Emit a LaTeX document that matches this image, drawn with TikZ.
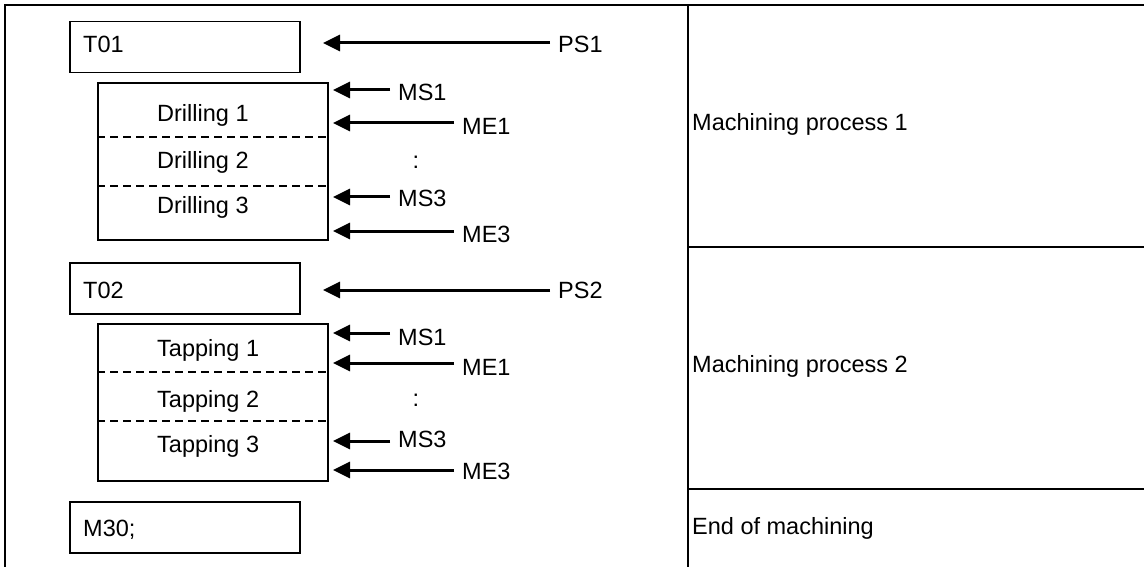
\documentclass[tikz,border=0pt]{standalone}
\usepackage{fontspec}
\setmainfont{Liberation Sans}
\usetikzlibrary{arrows.meta}
\begin{document}
\begin{tikzpicture}[x=1pt,y=-1pt,
  txt/.style={font=\fontsize{23.5}{28}\selectfont, inner sep=0pt},
  frame/.style={line width=2pt},
  box/.style={draw, line width=1.6pt, rectangle, inner sep=0pt},
  cmd/.style={box, anchor=north west, minimum width=230pt, minimum height=51pt},
  sub/.style={box, anchor=north west, minimum width=230pt, minimum height=157pt},
  sep/.style={line width=1.6pt, dash pattern=on 8pt off 5pt},
  lbl/.style={txt, anchor=base west, inner xsep=8pt},
  arr/.style={line width=3pt, -{Triangle[length=17pt,width=16pt]}}]
\useasboundingbox (0,0) rectangle (1144,567);
% frame
\coordinate (ftl) at (5,5);
\coordinate (ftr) at (1144,5);
\coordinate (fbl) at (5,567);
\coordinate (ct) at (688,5);
\coordinate (cb) at (688,567);
\coordinate (h1l) at (688,247);
\coordinate (h1r) at (1144,247);
\coordinate (h2l) at (688,489);
\coordinate (h2r) at (1144,489);
\draw[frame] (fbl) -- (ftl) -- (ftr);
\draw[frame] (ct) -- (cb);
\draw[frame] (h1l) -- (h1r);
\draw[frame] (h2l) -- (h2r);
\node[txt, anchor=base west] (mp1) at (692,131) {Machining process 1};
\node[txt, anchor=base west] (mp2) at (692,372) {Machining process 2};
\node[txt, anchor=base west] (eom) at (692,534) {End of machining};

% group 1
\node[cmd] (t01) at (69,20.7) {};
\node[txt, anchor=base west] (t01t) at (83,52.5) {T01};
\node[sub] (drill) at (97,82) {};
\coordinate (d1) at (97,137); \coordinate (d1e) at (327,137);
\coordinate (d2) at (97,186); \coordinate (d2e) at (327,186);
\draw[sep] (d1) -- (d1e);
\draw[sep] (d2) -- (d2e);
\node[txt, anchor=base west] (dr1) at (157,122) {Drilling 1};
\node[txt, anchor=base west] (dr2) at (157,168.3) {Drilling 2};
\node[txt, anchor=base west] (dr3) at (157,213.3) {Drilling 3};

\node[lbl] (ps1) at (550,52.3) {PS1};
\coordinate (ps1t) at (323,43);
\draw[arr] (ps1.west |- ps1t) -- (ps1t);
\node[lbl] (ms1a) at (390,100.7) {MS1};
\coordinate (ms1at) at (333,90);
\draw[arr] (ms1a.west |- ms1at) -- (ms1at);
\node[lbl] (me1a) at (454,135) {ME1};
\coordinate (me1at) at (333,123);
\draw[arr] (me1a.west |- me1at) -- (me1at);
\node[txt, anchor=base] (dotsa) at (416,168) {:};
\node[lbl] (ms3a) at (390,206.7) {MS3};
\coordinate (ms3at) at (333,197);
\draw[arr] (ms3a.west |- ms3at) -- (ms3at);
\node[lbl] (me3a) at (454,242) {ME3};
\coordinate (me3at) at (333,231);
\draw[arr] (me3a.west |- me3at) -- (me3at);

% group 2
\node[cmd] (t02) at (69,262) {};
\node[txt, anchor=base west] (t02t) at (83,298.3) {T02};
\node[sub] (tap) at (97,323) {};
\coordinate (e1) at (97,372); \coordinate (e1e) at (327,372);
\coordinate (e2) at (97,421); \coordinate (e2e) at (327,421);
\draw[sep] (e1) -- (e1e);
\draw[sep] (e2) -- (e2e);
\node[txt, anchor=base west] (tp1) at (157,356.7) {Tapping 1};
\node[txt, anchor=base west] (tp2) at (157,407.3) {Tapping 2};
\node[txt, anchor=base west] (tp3) at (157,452) {Tapping 3};

\node[lbl] (ps2) at (550,298.3) {PS2};
\coordinate (ps2t) at (323,290);
\draw[arr] (ps2.west |- ps2t) -- (ps2t);
\node[lbl] (ms1b) at (390,345) {MS1};
\coordinate (ms1bt) at (333,333);
\draw[arr] (ms1b.west |- ms1bt) -- (ms1bt);
\node[lbl] (me1b) at (454,375) {ME1};
\coordinate (me1bt) at (333,363);
\draw[arr] (me1b.west |- me1bt) -- (me1bt);
\node[txt, anchor=base] (dotsb) at (416,406.7) {:};
\node[lbl] (ms3b) at (390,447.3) {MS3};
\coordinate (ms3bt) at (333,441);
\draw[arr] (ms3b.west |- ms3bt) -- (ms3bt);
\node[lbl] (me3b) at (454,479.3) {ME3};
\coordinate (me3bt) at (333,470);
\draw[arr] (me3b.west |- me3bt) -- (me3bt);

% end
\node[cmd] (m30) at (69,501) {};
\node[txt, anchor=base west] (m30t) at (83,536) {M30;};
\end{tikzpicture}
\end{document}
